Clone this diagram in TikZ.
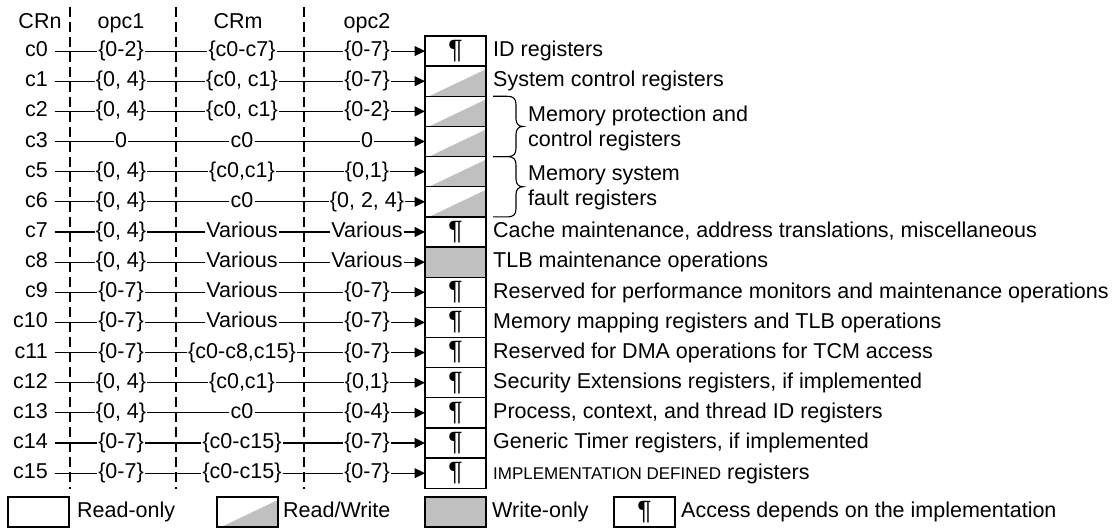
\documentclass[tikz,border=0pt]{standalone}
\usepackage{fontspec}
\setmainfont{Liberation Sans}
\usetikzlibrary{arrows.meta}
\definecolor{fillgray}{RGB}{192,192,192}
\newcommand\fs{\fontsize{21.5}{24.8}\selectfont}
\newcommand\smc{\fontsize{17}{20}\selectfont}
\newcommand\pil{{\fontsize{26.5}{26.5}\selectfont ¶}}
\newcommand\regrow[7]{%
  \path (55,{51.07+30.15*#1}) node[lab] (r#1) {#2}
        (121,{51.07+30.15*#1}) node[val] (p#1) {#3}
        (242,{51.07+30.15*#1}) node[val] (m#1) {#4}
        (367,{51.07+30.15*#1}) node[val] (q#1) {#5}
        (455.5,{51.07+30.15*#1}) node[#6] (b#1) {#7};
  \draw[hline] (r#1) -- (p#1) -- (m#1) -- (q#1);
  \draw[hline,arr] (q#1) -- (b#1);
}
\begin{document}
\begin{tikzpicture}[x=1pt,y=-1pt,font=\fs,
  lab/.style={anchor=east,inner xsep=7pt,inner ysep=0pt,text height=15.5pt,text depth=4.5pt},
  val/.style={inner xsep=1pt,inner ysep=0pt,text height=15.5pt,text depth=4.5pt},
  hdr/.style={anchor=base,inner sep=0pt},
  hline/.style={line width=1.1pt},
  arr/.style={-{Triangle[length=10.5pt,width=10pt]}},
  box/.style={draw,line width=1.3pt,minimum width=61pt,minimum height=30.15pt,inner sep=0pt,outer sep=0pt},
  rbox/.style={box},
  rwbox/.style={box,path picture={\fill[fillgray] ([xshift=4pt]path picture bounding box.south west) -- ([yshift=-3pt]path picture bounding box.north east) -- (path picture bounding box.south east) -- cycle;}},
  wbox/.style={box,fill=fillgray},
  pbox/.style={box},
  desc/.style={anchor=base west,inner sep=0pt},
  mdesc/.style={anchor=west,inner sep=0pt,align=left},
  dashv/.style={line width=2pt,dash pattern=on 10pt off 5pt},
  brace/.style={line width=1.1pt}]
\useasboundingbox (0,0) rectangle (1115,529);

% column separators
\coordinate (s1t) at (70,7);   \coordinate (s1b) at (70,489);
\coordinate (s2t) at (176,7);  \coordinate (s2b) at (176,489);
\coordinate (s3t) at (304,7);  \coordinate (s3b) at (304,489);
\draw[dashv] (s1t) -- (s1b);
\draw[dashv] (s2t) -- (s2b);
\draw[dashv] (s3t) -- (s3b);

% headers
\node[hdr] (hcrn) at (40,28.5) {CRn};
\node[hdr] (hopc1) at (121,28.5) {opc1};
\node[hdr] (hcrm) at (238,28.5) {CRm};
\node[hdr] (hopc2) at (367,28.5) {opc2};

% rows
\regrow{0}{c0}{\{0-2\}}{\{c0-c7\}}{\{0-7\}}{pbox}{\pil}
\regrow{1}{c1}{\{0, 4\}}{\{c0, c1\}}{\{0-7\}}{rwbox}{}
\regrow{2}{c2}{\{0, 4\}}{\{c0, c1\}}{\{0-2\}}{rwbox}{}
\regrow{3}{c3}{0}{c0}{0}{rwbox}{}
\regrow{4}{c5}{\{0, 4\}}{\{c0,c1\}}{\{0,1\}}{rwbox}{}
\regrow{5}{c6}{\{0, 4\}}{c0}{\{0, 2, 4\}}{rwbox}{}
\regrow{6}{c7}{\{0, 4\}}{Various}{Various}{pbox}{\pil}
\regrow{7}{c8}{\{0, 4\}}{Various}{Various}{wbox}{}
\regrow{8}{c9}{\{0-7\}}{Various}{\{0-7\}}{pbox}{\pil}
\regrow{9}{c10}{\{0-7\}}{Various}{\{0-7\}}{pbox}{\pil}
\regrow{10}{c11}{\{0-7\}}{\{c0-c8,c15\}}{\{0-7\}}{pbox}{\pil}
\regrow{11}{c12}{\{0, 4\}}{\{c0,c1\}}{\{0,1\}}{pbox}{\pil}
\regrow{12}{c13}{\{0, 4\}}{c0}{\{0-4\}}{pbox}{\pil}
\regrow{13}{c14}{\{0-7\}}{\{c0-c15\}}{\{0-7\}}{pbox}{\pil}
\regrow{14}{c15}{\{0-7\}}{\{c0-c15\}}{\{0-7\}}{pbox}{\pil}

% descriptions
\node[desc] (d0) at (493,56.8) {ID registers};
\node[desc] (d1) at (493,86.9) {System control registers};
\node[mdesc] (d2) at (528,128.5) {Memory protection and\\control registers};
\node[mdesc] (d4) at (528,188) {Memory system\\fault registers};
\node[desc] (d6) at (493,237.8) {Cache maintenance, address translations, miscellaneous};
\node[desc] (d7) at (493,267.9) {TLB maintenance operations};
\node[desc] (d8) at (493,298.1) {Reserved for performance monitors and maintenance operations};
\node[desc] (d9) at (493,328.2) {Memory mapping registers and TLB operations};
\node[desc] (d10) at (493,358.4) {Reserved for DMA operations for TCM access};
\node[desc] (d11) at (493,388.5) {Security Extensions registers, if implemented};
\node[desc] (d12) at (493,418.7) {Process, context, and thread ID registers};
\node[desc] (d13) at (493,448.8) {Generic Timer registers, if implemented};
\node[desc] (d14) at (493,479.0) {{\smc IMPLEMENTATION DEFINED} registers};

% braces
\draw[brace] (493,96.3) -- (507,96.3) .. controls (514,96.3) and (516,99) .. (516,105) -- (516,119) .. controls (516,124) and (519,126.45) .. (523,126.45) .. controls (519,126.45) and (516,129) .. (516,134) -- (516,148) .. controls (516,154) and (514,156.6) .. (507,156.6) -- (493,156.6);
\draw[brace] (493,156.6) -- (507,156.6) .. controls (514,156.6) and (516,159.3) .. (516,165.3) -- (516,179.3) .. controls (516,184.3) and (519,186.75) .. (523,186.75) .. controls (519,186.75) and (516,189.3) .. (516,194.3) -- (516,208.3) .. controls (516,214.3) and (514,216.9) .. (507,216.9) -- (493,216.9);

% legend
\node[rbox] (l1) at (38.5,512) {};
\node[desc] (lt1) at (77,517.8) {Read-only};
\node[rwbox] (l2) at (247.5,512) {};
\node[desc] (lt2) at (283,517.8) {Read/Write};
\node[wbox] (l3) at (455.5,512) {};
\node[desc] (lt3) at (492,517.8) {Write-only};
\node[pbox] (l4) at (644.5,512) {\pil};
\node[desc] (lt4) at (681,517.8) {Access depends on the implementation};
\end{tikzpicture}
\end{document}
